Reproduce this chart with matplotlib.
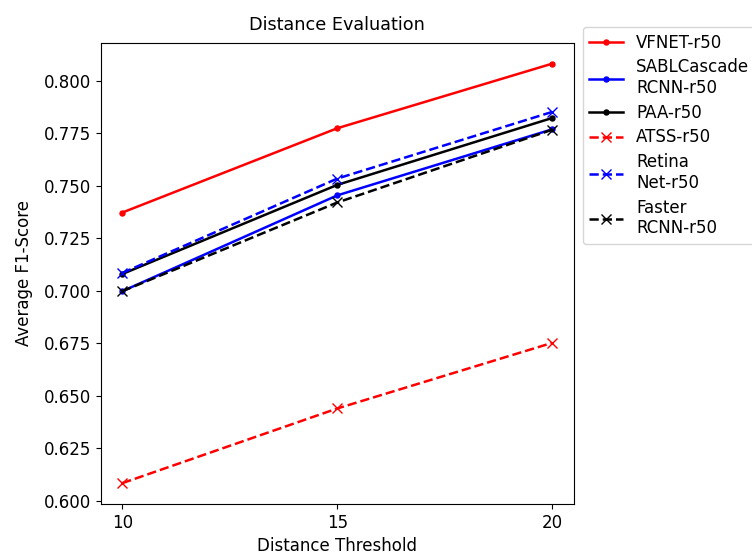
import matplotlib
matplotlib.use("Agg")
import matplotlib.pyplot as plt

thresholds = [10, 15, 20]

vfnet = [0.7373, 0.7775, 0.8083]
sabl = [0.6998, 0.7455, 0.7770]
paa = [0.7080, 0.7505, 0.7824]
atss = [0.6083, 0.6439, 0.6752]
retina = [0.7085, 0.7535, 0.7853]
faster = [0.6998, 0.7421, 0.7768]

plt.rcParams["font.size"] = 12
plt.rcParams["lines.linewidth"] = 1.8
plt.rcParams["lines.markersize"] = 7.2

fig = plt.figure(figsize=(7.52, 5.54), dpi=100)
ax = fig.add_axes([0.134, 0.090, 0.629, 0.833])

ax.plot(thresholds, vfnet, "r.-", label="VFNET-r50")
ax.plot(thresholds, sabl, "b.-", label="SABLCascade\nRCNN-r50")
ax.plot(thresholds, paa, "k.-", label="PAA-r50")
ax.plot(thresholds, atss, "rx--", label="ATSS-r50")
ax.plot(thresholds, retina, "bx--", label="Retina\nNet-r50")
ax.plot(thresholds, faster, "kx--", label="Faster\nRCNN-r50")

ax.set_xticks(thresholds)
ax.set_xlabel("Distance Threshold")
ax.set_ylabel("Average F1-Score", labelpad=8)
ax.set_title("Distance Evaluation", fontsize=12.7, pad=9)
ax.legend(loc="upper left", bbox_to_anchor=(1.019, 1.034), borderaxespad=0,
          handlelength=2.0, labelspacing=0.4)

fig.savefig("out.png", dpi=100)
